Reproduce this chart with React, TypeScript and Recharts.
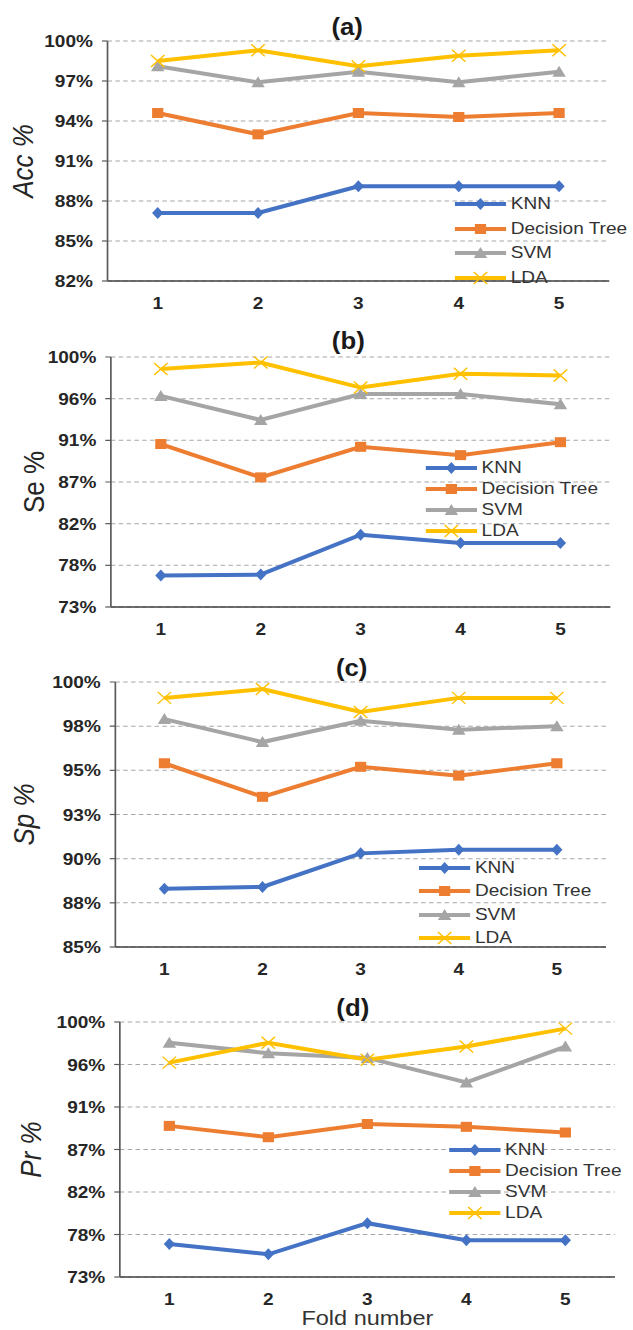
import React from 'react';
import { LineChart, Line, XAxis, YAxis, CartesianGrid, Legend } from 'recharts';

const folds = [1, 2, 3, 4, 5];

const accKnn = [87.1, 87.1, 89.1, 89.1, 89.1];
const accTree = [94.6, 93.0, 94.6, 94.3, 94.6];
const accSvm = [98.1, 96.9, 97.7, 96.9, 97.7];
const accLda = [98.5, 99.3, 98.1, 98.9, 99.3];

const seKnn = [76.4, 76.5, 80.8, 79.9, 79.9];
const seTree = [90.6, 87.0, 90.3, 89.4, 90.8];
const seSvm = [95.8, 93.2, 96.0, 96.0, 94.9];
const seLda = [98.7, 99.4, 96.7, 98.2, 98.0];

const spKnn = [88.3, 88.4, 90.3, 90.5, 90.5];
const spTree = [95.4, 93.5, 95.2, 94.7, 95.4];
const spSvm = [97.9, 96.6, 97.8, 97.3, 97.5];
const spLda = [99.1, 99.6, 98.3, 99.1, 99.1];

const prKnn = [76.5, 75.4, 78.7, 76.9, 76.9];
const prTree = [89.0, 87.8, 89.2, 88.9, 88.3];
const prSvm = [97.8, 96.7, 96.2, 93.6, 97.4];
const prLda = [95.7, 97.8, 96.0, 97.4, 99.3];

// Excel-style major units, labels rounded to whole percent
const ticksAcc = [82, 85, 88, 91, 94, 97, 100];
const ticksSe = [73, 77.5, 82, 86.5, 91, 95.5, 100];
const ticksSp = [85, 87.5, 90, 92.5, 95, 97.5, 100];
const ticksPr = [73, 77.5, 82, 86.5, 91, 95.5, 100];

const series = [
  { key: 'KNN', color: '#4472C4', marker: 'diamond' },
  { key: 'Decision Tree', color: '#ED7D31', marker: 'square' },
  { key: 'SVM', color: '#A5A5A5', marker: 'triangle' },
  { key: 'LDA', color: '#FFC000', marker: 'x' },
];

const makeRows = (knn: number[], tree: number[], svm: number[], lda: number[]) =>
  folds.map((fold, i) => ({ fold, KNN: knn[i], 'Decision Tree': tree[i], SVM: svm[i], LDA: lda[i] }));

const FONT = '"Liberation Sans", Arial, sans-serif';
const STRETCH = 1.12;
const W = 565;

const Marker = ({ kind, cx, cy, color }: { kind: string; cx: number; cy: number; color: string }) => {
  if (kind === 'diamond')
    return <path d={`M${cx},${cy - 6}L${cx + 5},${cy}L${cx},${cy + 6}L${cx - 5},${cy}Z`} fill={color} />;
  if (kind === 'square') return <rect x={cx - 5} y={cy - 5} width={10} height={10} fill={color} />;
  if (kind === 'triangle')
    return <path d={`M${cx},${cy - 6}L${cx + 6},${cy + 5}L${cx - 6},${cy + 5}Z`} fill={color} />;
  return (
    <path
      d={`M${cx - 6},${cy - 6}L${cx + 6},${cy + 6}M${cx + 6},${cy - 6}L${cx - 6},${cy + 6}`}
      stroke={color}
      strokeWidth={1.3}
      fill="none"
    />
  );
};

// keep the series order (Recharts sorts legend items by name otherwise)
const legendContent = (rowH: number) => (props: any) => {
  const shown = new Set((props.payload || []).map((p: any) => p.dataKey));
  return (
    <div style={{ fontFamily: FONT, fontSize: 17, color: '#333' }}>
      {series
        .filter((s) => shown.has(s.key))
        .map((s) => (
          <div key={s.key} style={{ height: rowH, display: 'flex', alignItems: 'center', whiteSpace: 'nowrap' }}>
            <svg width={46} height={14} style={{ marginRight: 4 }}>
              <line x1={0} y1={7} x2={46} y2={7} stroke={s.color} strokeWidth={4} />
              <Marker kind={s.marker} cx={23} cy={7} color={s.color} />
            </svg>
            <span>{s.key}</span>
          </div>
        ))}
    </div>
  );
};

const panels = [
  {
    title: '(a)', titleX: 310, titleY: 27, yLabel: 'Acc %', italic: true,
    rows: makeRows(accKnn, accTree, accSvm, accLda), ticks: ticksAcc,
    top: 0, height: 320, margin: { top: 41, right: 21, bottom: 9, left: 0 }, axisW: 96, labelX: 20,
    xAxisH: 30, legendLeft: 406, legendTop: 192, rowH: 24.5,
  },
  {
    title: '(b)', titleX: 311, titleY: 341, yLabel: 'Se %', italic: false,
    rows: makeRows(seKnn, seTree, seSvm, seLda), ticks: ticksSe,
    top: 320, height: 320, margin: { top: 37, right: 20, bottom: 3, left: 0 }, axisW: 99, labelX: 30,
    xAxisH: 30, legendLeft: 380, legendTop: 137.5, rowH: 21,
  },
  {
    title: '(c)', titleX: 314, titleY: 668, yLabel: 'Sp %', italic: true,
    rows: makeRows(spKnn, spTree, spSvm, spLda), ticks: ticksSp,
    top: 645, height: 340, margin: { top: 37, right: 24, bottom: 8, left: 0 }, axisW: 103, labelX: 21,
    xAxisH: 30, legendLeft: 374, legendTop: 211, rowH: 23.5,
  },
  {
    title: '(d)', titleX: 315, titleY: 1008, yLabel: 'Pr %', italic: true,
    rows: makeRows(prKnn, prTree, prSvm, prLda), ticks: ticksPr,
    top: 980, height: 350, margin: { top: 42, right: 16, bottom: 0, left: 0 }, axisW: 107, labelX: 27,
    xAxisH: 53, legendLeft: 401, legendTop: 159.5, rowH: 21, xLabel: 'Fold number',
  },
];

export default function App() {
  return (
    <div style={{ position: 'absolute', left: 0, top: 0, width: 633, height: 1330, overflow: 'hidden', background: '#fff' }}>
      <div style={{ position: 'relative', width: W, height: 1330, transform: `scaleX(${STRETCH})`, transformOrigin: '0 0' }}>
        {panels.map((p) => (
          <div key={p.title} style={{ position: 'absolute', left: 0, top: p.top, width: W, height: p.height }}>
            <LineChart width={W} height={p.height} data={p.rows} margin={p.margin}>
              <CartesianGrid vertical={false} stroke="#a6a6a6" strokeDasharray="4 3" />
              <XAxis
                dataKey="fold"
                type="number"
                domain={[0.5, 5.5]}
                ticks={folds}
                height={p.xAxisH}
                tickLine={false}
                tickMargin={10}
                axisLine={{ stroke: '#404040', strokeWidth: 1.5 }}
                tick={{ fill: '#262626', fontSize: 17, fontWeight: 'bold', fontFamily: FONT }}
                label={
                  p.xLabel
                    ? { value: p.xLabel, position: 'insideBottom', offset: 5, fill: '#333', fontSize: 21, fontFamily: FONT }
                    : undefined
                }
              />
              <YAxis
                domain={[p.ticks[0], 100]}
                ticks={p.ticks}
                interval={0}
                width={p.axisW}
                tickSize={5}
                tickMargin={8}
                axisLine={{ stroke: '#595959', strokeWidth: 1.5 }}
                tickLine={{ stroke: '#595959', strokeWidth: 1.2 }}
                tickFormatter={(v: number) => `${Math.round(v)}%`}
                tick={{ fill: '#262626', fontSize: 17, fontWeight: 'bold', fontFamily: FONT }}
                label={{
                  value: p.yLabel,
                  angle: -90,
                  position: 'insideLeft',
                  offset: p.labelX,
                  fill: '#262626',
                  fontSize: 26,
                  fontFamily: FONT,
                  fontStyle: p.italic ? 'italic' : 'normal',
                  style: { textAnchor: 'middle' },
                }}
              />
              <Legend
                layout="vertical"
                align="center"
                verticalAlign="middle"
                content={legendContent(p.rowH)}
                wrapperStyle={{ left: p.legendLeft, top: p.legendTop, width: 'auto' }}
              />
              {series.map((s) => (
                <Line
                  key={s.key}
                  dataKey={s.key}
                  stroke={s.color}
                  strokeWidth={4}
                  isAnimationActive={false}
                  dot={(d: any) => <Marker key={`${s.key}-${d.index}`} kind={s.marker} cx={d.cx} cy={d.cy} color={s.color} />}
                  activeDot={false}
                />
              ))}
            </LineChart>
            <div
              style={{
                position: 'absolute',
                left: p.titleX - 40,
                top: p.titleY - p.top - 13,
                width: 80,
                lineHeight: '26px',
                textAlign: 'center',
                fontFamily: FONT,
                fontWeight: 'bold',
                fontSize: 23,
                color: '#1a1a1a',
              }}
            >
              {p.title}
            </div>
          </div>
        ))}
      </div>
    </div>
  );
}
